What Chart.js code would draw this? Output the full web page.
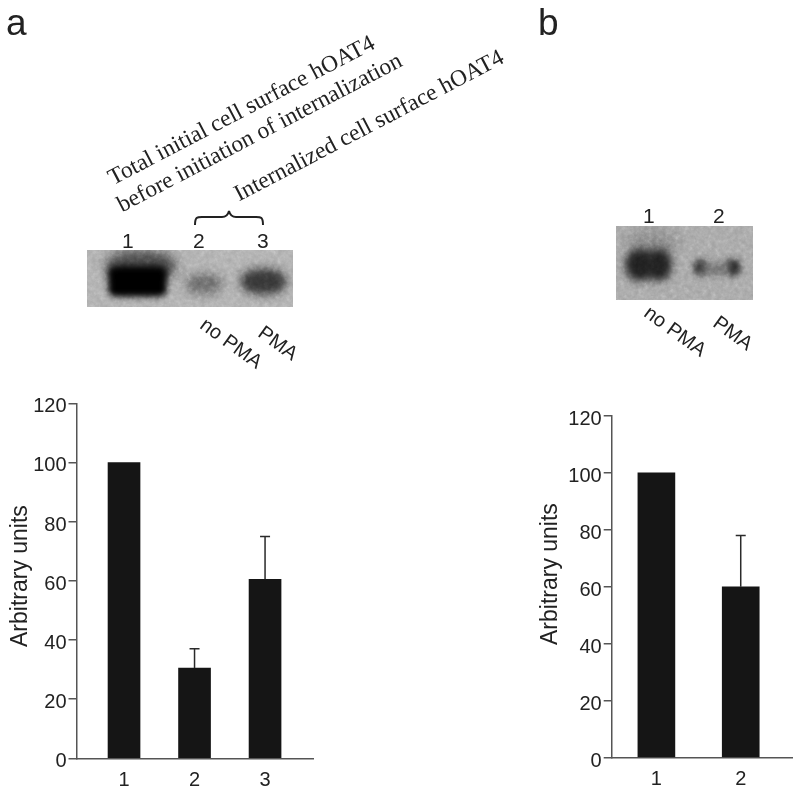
<!DOCTYPE html>
<html>
<head>
<meta charset="utf-8">
<title>hOAT4 internalization</title>
<script src="https://cdn.jsdelivr.net/npm/chart.js@4"></script>
<style>
  html, body { margin: 0; padding: 0; background: #fff; }
  .page { position: relative; width: 800px; height: 793px; overflow: hidden; font-family: "Liberation Sans", sans-serif; color: #222; }
  .page canvas { position: absolute; }
  .txt { position: absolute; white-space: nowrap; line-height: 1; transform-origin: 0 100%; }
  .panel { font-size: 37px; }
  .serif { font-family: "Liberation Serif", serif; font-size: 23.5px; transform: rotate(-27.6deg); }
  .lane { font-size: 21px; }
  .pma { font-size: 20px; transform: rotate(36deg); }
  .ylabel { font-size: 23px; transform: rotate(-90deg); }
  .gel { position: absolute; overflow: hidden; }
  .gel i { position: absolute; display: block; border-radius: 45%; }
  .gel svg { position: absolute; left: 0; top: 0; mix-blend-mode: overlay; opacity: 0.55; }
  #gelA { left: 87px; top: 250px; width: 206px; height: 57px; background: #ababab; }
  #gelB { left: 616px; top: 226px; width: 137px; height: 74px; background: #a2a2a2; }
</style>
</head>
<body>
<div class="page">
  <div class="txt panel" style="left:6px;top:4px">a</div>
  <div class="txt panel" style="left:538px;top:4px">b</div>

  <div class="txt serif" style="left:115px;top:166px">Total initial cell surface hOAT4</div>
  <div class="txt serif" style="left:124px;top:193px">before initiation of internalization</div>
  <div class="txt serif" style="left:241px;top:182px">Internalized cell surface hOAT4</div>

  <svg style="position:absolute;left:190px;top:205px" width="80" height="25" fill="none" stroke="#222" stroke-width="2">
    <path d="M5 20 C5 12 7 12 12 12 L32 12 C36 12 38 10 39 6 C40 10 42 12 46 12 L66 12 C71 12 73 12 73 20"/>
  </svg>

  <div class="txt lane" style="left:122px;top:230px">1</div>
  <div class="txt lane" style="left:193px;top:230px">2</div>
  <div class="txt lane" style="left:257px;top:230px">3</div>
  <div class="txt lane" style="left:643px;top:205px">1</div>
  <div class="txt lane" style="left:713px;top:205px">2</div>

  <svg width="0" height="0" style="position:absolute">
    <filter id="grain"><feTurbulence type="fractalNoise" baseFrequency="0.22" numOctaves="3" seed="4"/><feColorMatrix type="saturate" values="0"/></filter>
  </svg>

  <div class="gel" id="gelA">
    <i style="left:18px;top:0;width:72px;height:32px;background:#444;filter:blur(6px)"></i>
    <i style="left:21px;top:16px;width:59px;height:31px;background:#000;border-radius:16%;filter:blur(3px)"></i>
    <i style="left:98px;top:23px;width:38px;height:22px;background:#666;filter:blur(5px)"></i>
    <i style="left:153px;top:18px;width:47px;height:27px;background:#333;filter:blur(5px)"></i>
    <svg width="206" height="57"><rect width="206" height="57" filter="url(#grain)"/></svg>
  </div>
  <div class="gel" id="gelB">
    <i style="left:10px;top:4px;width:52px;height:26px;background:#808080;filter:blur(7px)"></i>
    <i style="left:9px;top:23px;width:30px;height:32px;background:#1e1e1e;filter:blur(4px)"></i>
    <i style="left:30px;top:23px;width:26px;height:32px;background:#1e1e1e;filter:blur(4px)"></i>
    <i style="left:77px;top:33px;width:15px;height:17px;background:#333;filter:blur(3px)"></i>
    <i style="left:109px;top:33px;width:16px;height:17px;background:#262626;filter:blur(3px)"></i>
    <i style="left:86px;top:36px;width:28px;height:14px;background:#686868;filter:blur(4px)"></i>
    <svg width="137" height="74"><rect width="137" height="74" filter="url(#grain)"/></svg>
  </div>

  <div class="txt pma" style="left:197px;top:310px">no PMA</div>
  <div class="txt pma" style="left:255px;top:318px">PMA</div>
  <div class="txt pma" style="left:641px;top:298px">no PMA</div>
  <div class="txt pma" style="left:710px;top:308px">PMA</div>

  <div class="txt ylabel" style="left:31px;top:623.5px">Arbitrary units</div>
  <div class="txt ylabel" style="left:561px;top:622px">Arbitrary units</div>

  <canvas id="chartA" width="330" height="403" style="left:0;top:390px;width:330px;height:403px"></canvas>
  <canvas id="chartB" width="270" height="393" style="left:530px;top:400px;width:270px;height:393px"></canvas>
</div>

<script>
  // Panel a
  const lanesA = [1, 2, 3];
  const valuesA = [100, 30.5, 60.5];
  const errorTopA = [null, 37, 75];

  // Panel b
  const lanesB = [1, 2];
  const valuesB = [100, 60];
  const errorTopB = [null, 78];

  const yTicks = [0, 20, 40, 60, 80, 100, 120];

  const BAR_COLOR = "#151515";
  const AXIS_COLOR = "#555555";
  const TEXT_COLOR = "#222222";

  // Error bars, one upward whisker with a cap
  const errorBars = {
    id: "errorBars",
    afterDatasetsDraw: function (chart, args, opts) {
      const c = chart.ctx;
      const x = chart.scales.x;
      const y = chart.scales.y;
      c.save();
      c.strokeStyle = "#2a2a2a";
      c.lineWidth = 1.5;
      opts.tops.forEach(function (top, i) {
        if (top === null) return;
        const px = x.getPixelForValue(opts.lanes[i]);
        c.beginPath();
        c.moveTo(px, y.getPixelForValue(opts.values[i]));
        c.lineTo(px, y.getPixelForValue(top));
        c.moveTo(px - 5, y.getPixelForValue(top));
        c.lineTo(px + 5, y.getPixelForValue(top));
        c.stroke();
      });
      c.restore();
    },
  };

  function makeChart(id, lanes, values, tops, cfg) {
    return new Chart(document.getElementById(id), {
      type: "bar",
      plugins: [errorBars],
      data: {
        datasets: [
          {
            data: lanes.map(function (l, i) {
              return { x: l, y: values[i] };
            }),
            backgroundColor: BAR_COLOR,
            barThickness: cfg.barWidth,
          },
        ],
      },
      options: {
        responsive: false,
        animation: false,
        layout: { padding: { top: cfg.top, right: cfg.right, left: 0, bottom: 0 } },
        plugins: {
          legend: { display: false },
          tooltip: { enabled: false },
          errorBars: { lanes: lanes, values: values, tops: tops },
        },
        scales: {
          x: {
            type: "linear",
            offset: false,
            min: cfg.xMin,
            max: cfg.xMax,
            afterBuildTicks: function (axis) {
              axis.ticks = lanes.map(function (l) {
                return { value: l };
              });
            },
            afterFit: function (axis) {
              axis.height = cfg.xHeight;
            },
            grid: { display: false },
            border: { color: AXIS_COLOR, width: 1.5 },
            ticks: {
              color: TEXT_COLOR,
              font: { size: 20, family: "Liberation Sans" },
              padding: 2,
              maxRotation: 0,
              autoSkip: false,
            },
          },
          y: {
            min: 0,
            max: 120,
            afterBuildTicks: function (axis) {
              axis.ticks = yTicks.map(function (v) {
                return { value: v };
              });
            },
            afterFit: function (axis) {
              axis.width = cfg.yWidth;
            },
            grid: {
              drawOnChartArea: false,
              drawTicks: true,
              tickLength: 8,
              color: AXIS_COLOR,
              lineWidth: 1.5,
            },
            border: { color: AXIS_COLOR, width: 1.5 },
            ticks: {
              color: TEXT_COLOR,
              font: { size: 20, family: "Liberation Sans", lineHeight: "7px" },
              padding: 2,
              // blank first line nudges the number just below its tick, as in the figure
              callback: function (v) {
                return ["", String(v)];
              },
            },
          },
        },
      },
    });
  }

  makeChart("chartA", lanesA, valuesA, errorTopA, {
    barWidth: 32,
    top: 13.3,
    right: 17,
    yWidth: 76.5,
    xHeight: 34.7,
    xMin: 0.326,
    xMax: 3.68,
  });

  makeChart("chartB", lanesB, valuesB, errorTopB, {
    barWidth: 37,
    top: 16,
    right: 8,
    yWidth: 81.7,
    xHeight: 35.3,
    xMin: 0.47,
    xMax: 2.608,
  });
</script>
</body>
</html>
